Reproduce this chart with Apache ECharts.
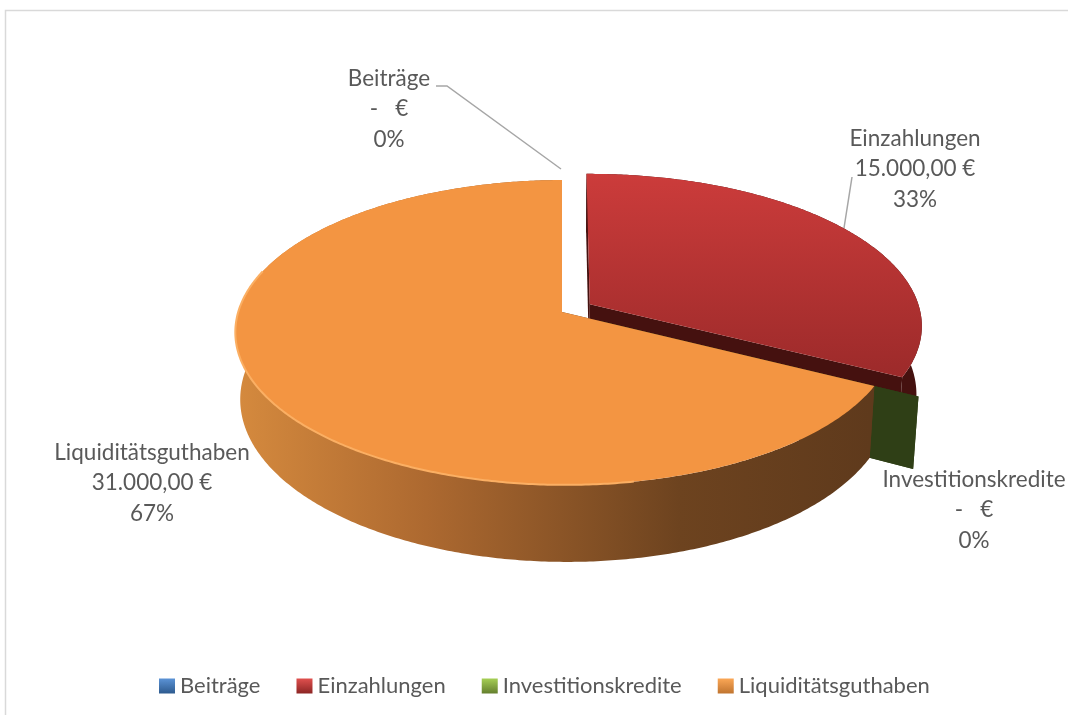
<!DOCTYPE html>
<html>
<head>
<meta charset="utf-8">
<style>
  html, body { margin: 0; padding: 0; background: #fff; }
  #chart { width: 1068px; height: 715px; }
</style>
<script src="https://cdn.jsdelivr.net/npm/echarts@6/dist/echarts.min.js"></script>
</head>
<body>
<div id="chart"></div>
<script>
const categories = ['Beiträge', 'Einzahlungen', 'Investitionskredite', 'Liquiditätsguthaben']
const amounts = [0, 15000, 0, 31000]

// tilted disc, values picked to sit on the reference
const CX = 562
const CY = 312
const RX = 327
const RY = 149.7
const PERSP = 0.134
const PERSP_X = 0.01
const DEPTH = 66.7
const BOTTOM_SCALE = 0.985

const explode = [0, 0.1, 0.13, 0]
const FONT = 'Lato, "Open Sans", sans-serif'

const grad = (x, y, x2, y2, c0, c1) => new echarts.graphic.LinearGradient(x, y, x2, y2, [
  { offset: 0, color: c0 },
  { offset: 1, color: c1 }
], true)

const orangeWall = new echarts.graphic.LinearGradient(236, 0, 870, 0, [
  { offset: 0, color: '#d58a3e' },
  { offset: 0.3, color: '#ad6930' },
  { offset: 0.7, color: '#6d431f' },
  { offset: 1, color: '#5f3a1c' }
], true)

const sliceStyles = [
  { top: '#4f81bd', face: '#1f3552', wall: '#1f3552' },
  { top: grad(0, 172, 0, 378, '#cc3c3b', '#9c2a2a'), face: '#45110f', wall: '#45110f' },
  { top: '#2f3f16', face: '#2f3f16', wall: '#2f3f16' },
  { top: '#f39542', face: '#5f3a1c', wall: orangeWall, edge: '#fbaf63', edgeFrom: 2.95, edgeTo: 5.0 }
]

const legendColors = [
  ['#5b93d6', '#2d5a8e'],
  ['#e0504e', '#8c2524'],
  ['#a6cf55', '#647f2e'],
  ['#fba756', '#c0742f']
]

// label block centre plus leader line, per slice
const labelSpots = [
  { x: 389, y: 109, line: [[436, 86], [447, 86], [561, 169]] },
  { x: 915, y: 169, line: [[852, 177], [844, 228]] },
  { x: 974, y: 510 },
  { x: 152, y: 483 }
]

const total = amounts.reduce((a, b) => a + b, 0)
const euroFormat = new Intl.NumberFormat('de-DE', { minimumFractionDigits: 2, maximumFractionDigits: 2 })

const sweeps = []
let cursor = 0
amounts.forEach((v) => {
  const start = cursor
  cursor += (v / total) * Math.PI * 2
  sweeps.push([start, cursor])
})

function project(theta, r, off, bottom) {
  const u = r * Math.sin(theta) + off[0]
  const v = -r * Math.cos(theta) + off[1]
  const w = 1 - PERSP * v - PERSP_X * u
  const scale = bottom ? BOTTOM_SCALE : 1
  return [
    CX + (RX * u / w) * scale,
    CY + (RY * v) / w + (bottom ? DEPTH / w : 0)
  ]
}

function arc(start, end, off, bottom) {
  const steps = Math.max(1, Math.ceil((end - start) / 0.01))
  const pts = []
  for (let i = 0; i <= steps; i++) {
    pts.push(project(start + ((end - start) * i) / steps, 1, off, bottom))
  }
  return pts
}

function labelText(i) {
  const money = amounts[i] === 0 ? '-   €' : euroFormat.format(amounts[i]) + ' €'
  return categories[i] + '\n' + money + '\n' + Math.round((amounts[i] / total) * 100) + '%'
}

function renderSlice(i) {
  const [start, end] = sweeps[i]
  const mid = (start + end) / 2
  const off = [explode[i] * Math.sin(mid), -explode[i] * Math.cos(mid)]
  const look = sliceStyles[i]

  const topArc = arc(start, end, off, false)
  const bottomArc = arc(start, end, off, true)
  const apexTop = project(0, 0, off, false)
  const apexBottom = project(0, 0, off, true)

  const poly = (points, fill) => ({ type: 'polygon', shape: { points }, style: { fill } })
  const children = [
    poly([apexTop, topArc[0], bottomArc[0], apexBottom], look.face),
    poly([apexTop, topArc[topArc.length - 1], bottomArc[bottomArc.length - 1], apexBottom], look.face),
    poly(topArc.concat(bottomArc.slice().reverse()), look.wall),
    poly([apexTop].concat(topArc), look.top)
  ]
  if (look.edge) {
    children.push({
      type: 'polyline',
      shape: { points: arc(look.edgeFrom, look.edgeTo, off, false) },
      style: { fill: 'none', stroke: look.edge, lineWidth: 2 }
    })
  }
  return { type: 'group', children }
}

const chart = echarts.init(document.getElementById('chart'))

chart.setOption({
  animation: false,
  backgroundColor: '#fff',
  legend: {
    left: 154,
    top: 670,
    icon: 'rect',
    itemWidth: 16,
    itemHeight: 15,
    itemGap: 36,
    textStyle: { color: '#595959', fontFamily: FONT, fontSize: 22 },
    data: categories.map((name, i) => ({
      name,
      itemStyle: { color: new echarts.graphic.LinearGradient(0, 0, 0, 1, [
        { offset: 0, color: legendColors[i][0] },
        { offset: 1, color: legendColors[i][1] }
      ]) }
    }))
  },
  graphic: [
    {
      type: 'rect',
      silent: true,
      z: -1,
      shape: { x: 5.5, y: 10.5, width: 1100, height: 740 },
      style: { fill: '#fff', stroke: '#d9d9d9', lineWidth: 1.5 }
    }
  ].concat(labelSpots.filter((s) => s.line).map((s) => ({
    type: 'polyline',
    silent: true,
    shape: { points: s.line },
    style: { fill: 'none', stroke: '#a6a6a6', lineWidth: 1.5 }
  }))).concat(labelSpots.map((s, i) => ({
    type: 'text',
    silent: true,
    x: s.x,
    y: s.y,
    z: 10,
    style: {
      text: labelText(i),
      align: 'center',
      verticalAlign: 'middle',
      fill: '#595959',
      font: '22.5px ' + FONT,
      lineHeight: 30.5
    }
  }))),
  series: categories.map((name, i) => ({
    type: 'custom',
    name,
    coordinateSystem: 'none',
    silent: true,
    data: [{ name, value: amounts[i] }],
    renderItem: () => renderSlice(i)
  }))
})
</script>
</body>
</html>
